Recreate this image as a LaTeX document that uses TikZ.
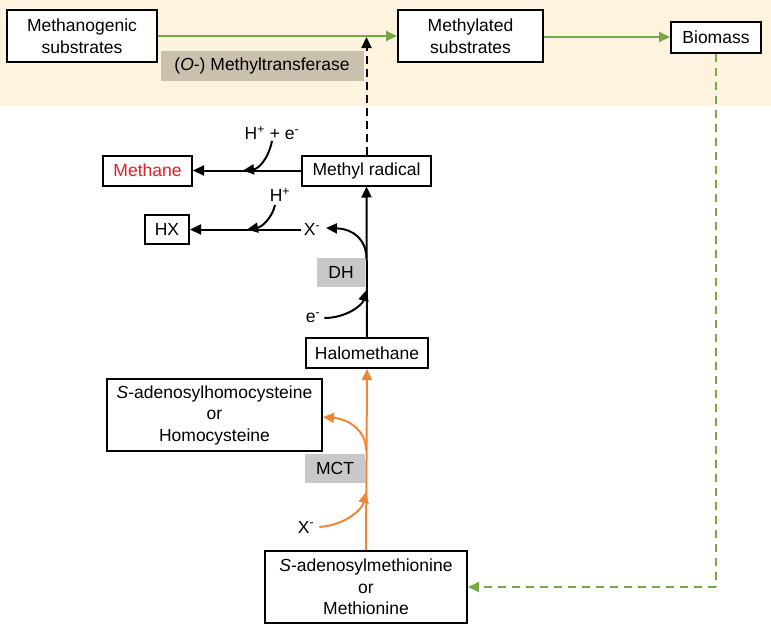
\documentclass[tikz,border=0pt]{standalone}
\usepackage{fontspec}
\setmainfont{Liberation Sans}
\usetikzlibrary{arrows.meta}
\definecolor{bandbg}{HTML}{FEF3DE}
\definecolor{grn}{HTML}{76A844}
\definecolor{org}{HTML}{EF8536}
\definecolor{tanbox}{HTML}{C9C0AE}
\definecolor{grybox}{HTML}{C8C8C8}
\definecolor{redtxt}{HTML}{E31E24}
\tikzset{
  box/.style={draw=black, line width=2pt, fill=white, align=center, inner sep=0pt, font=\fontsize{17.5}{21.5}\selectfont},
  enz/.style={fill=#1, draw=none, align=center, inner sep=0pt, font=\fontsize{17.5}{21.5}\selectfont},
  lbl/.style={inner sep=0pt, font=\fontsize{17.5}{21.5}\selectfont},
  tip/.style={-{Triangle[length=11pt,width=10pt]}},
  blk/.style={tip, line width=2pt, draw=black},
  grnarr/.style={tip, line width=2pt, draw=grn, color=grn},
  orgarr/.style={tip, line width=2pt, draw=org, color=org},
}
\begin{document}
\begin{tikzpicture}[x=1pt,y=-1pt]
\useasboundingbox (0,0) rectangle (771,624);
\fill[bandbg] (0,0) rectangle (771,106);
% nodes
\node[box, minimum width=150pt, minimum height=52pt] (mgs) at (82,36) {Methanogenic\\substrates};
\node[box, minimum width=145pt, minimum height=52pt] (mts) at (470.5,36) {Methylated\\substrates};
\node[box, minimum width=90pt, minimum height=31pt] (bio) at (716,37) {Biomass};
\node[enz=tanbox, minimum width=203pt, minimum height=30pt] (omt) at (262,65.5) {(\textit{O}-) Methyltransferase};
\node[box, minimum width=129pt, minimum height=30pt] (mr) at (366.5,170.5) {Methyl radical};
\node[box, minimum width=89pt, minimum height=30pt, text=redtxt] (meth) at (147.5,170.5) {Methane};
\node[box, minimum width=44pt, minimum height=29pt] (hx) at (167,229.5) {HX};
\node[lbl] (xa) at (312,229.5) {X\textsuperscript{-}};
\node[lbl] (hpe) at (272,133) {H\textsuperscript{+} + e\textsuperscript{-}};
\node[lbl] (hp) at (280,195) {H\textsuperscript{+}};
\node[enz=grybox, minimum width=48pt, minimum height=29pt] (dh) at (341,272.5) {DH};
\node[lbl] (ea) at (313,318) {e\textsuperscript{-}};
\node[box, minimum width=122pt, minimum height=30pt] (halo) at (367,353) {Halomethane};
\node[box, minimum width=215pt, minimum height=72pt] (sah) at (214.5,415) {\textit{S}-adenosylhomocysteine\\or\\Homocysteine};
\node[enz=grybox, minimum width=60pt, minimum height=29pt] (mct) at (335,468.5) {MCT};
\node[lbl] (xb) at (306,527) {X\textsuperscript{-}};
\node[box, minimum width=202pt, minimum height=72pt] (sam) at (366,587) {\textit{S}-adenosylmethionine\\or\\Methionine};
% coordinates
\coordinate (c1) at (243,170.5);
\coordinate (c2) at (247,229.5);
\coordinate (c3) at (366.5,258);
\coordinate (c4) at (366.5,290);
\coordinate (c5) at (366,450);
\coordinate (c6) at (366,492);
\coordinate (xtip) at (326,228);
\coordinate (dtop) at (366.5,37);
\coordinate (bend) at (716,587);
% green top flow
\draw[grnarr] (mgs.east |- 0,36) -- (mts.west |- 0,36);
\draw[grnarr] (mts.east |- 0,37) -- (bio.west);
\draw[grn, line width=2pt, dash pattern=on 8pt off 6pt] (bio.south) -- (bend);
\draw[grn, tip, line width=2pt, dash pattern=on 8pt off 6pt] (bend) -- (sam.east);
% dashed black
\draw[blk, dash pattern=on 8pt off 5pt] (mr.north) -- (dtop);
% methane branch
\draw[blk] (mr.west) -- (meth.east);
\draw[blk] (hpe.south) ++(0,1) .. controls (268,160) and (258,169) .. (c1);
% HX branch
\draw[blk] (xa.west) ++(-3,0) -- (hx.east);
\draw[blk] (275,205) .. controls (272,218) and (262,227) .. (c2);
% DH vertical
\draw[blk] (halo.north) -- (mr.south);
\draw[blk] (c3) .. controls (366,240) and (354,229) .. (xtip);
\draw[blk] (ea.east) ++(4,0) .. controls (345,318) and (362,306) .. (c4);
% MCT vertical
\draw[orgarr] (sam.north) -- (halo.south);
\draw[orgarr] (c5) .. controls (366,430) and (348,419) .. (sah.east |- 0,417);
\draw[orgarr] (xb.east) ++(5,0) .. controls (345,525) and (362,510) .. (c6);
\end{tikzpicture}
\end{document}
